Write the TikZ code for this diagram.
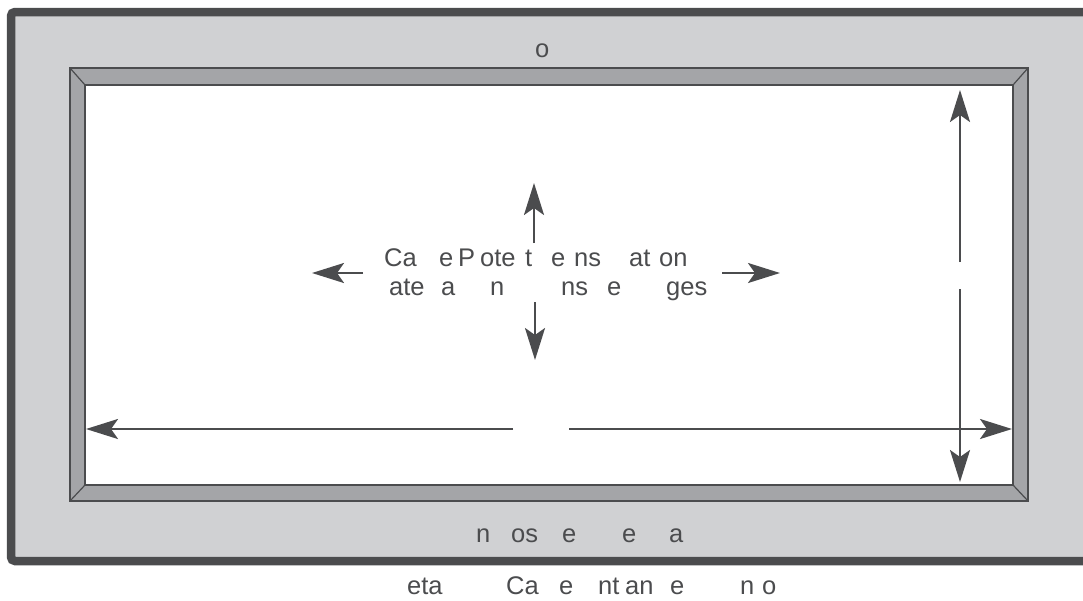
\documentclass[tikz,border=0pt]{standalone}
\usepackage{fontspec}
\setmainfont{Liberation Sans}
\usetikzlibrary{arrows.meta}
\definecolor{dk}{HTML}{4B4C4E}
\definecolor{lt}{HTML}{D0D1D3}
\definecolor{framegray}{HTML}{A4A5A8}
\newcommand\frg[2]{\makebox[0pt][l]{\hspace*{#1pt}#2}}
\begin{document}
\begin{tikzpicture}[x=1pt,y=-1pt,
  txt/.style={font=\fontsize{25.5}{30}\selectfont, text=dk, inner sep=0pt, anchor=base west},
  arr/.style={draw=dk, line width=2.4pt, -{Stealth[length=32pt,width=20pt,inset=7pt]}},
  edge/.style={draw=dk, line width=1.2pt}]
\useasboundingbox (0,0) rectangle (1083,600);
% outer panel
\draw[draw=dk, fill=lt, line width=8.5pt, rounded corners=4pt] (11,12) rectangle (1100,561);
% bevelled frame
\fill[framegray] (70,68) rectangle (1028,501);
\fill[white] (85,85) rectangle (1013,485);
\draw[edge] (70,68) rectangle (1028,501);
\draw[edge] (85,85) rectangle (1013,485);
\draw[edge] (70,68) -- (85,85);
\draw[edge] (1028,68) -- (1013,85);
\draw[edge] (70,501) -- (85,485);
\draw[edge] (1028,501) -- (1013,485);
% texts
\node[txt] (top) at (535,57) {o};
\node[txt] (c1) at (384,266) {\frg{0}{Ca}\frg{55}{e}\frg{74}{P}\frg{96}{ote}\frg{141}{t}\frg{167}{e}\frg{190}{ns}\frg{245}{at}\frg{275}{on}\hspace*{311pt}};
\node[txt] (c2) at (389,295) {\frg{0}{ate}\frg{52}{a}\frg{101}{n}\frg{172}{ns}\frg{218}{e}\frg{277}{ges}\hspace*{318pt}};
\node[txt] (bot) at (476,542) {\frg{0}{n}\frg{35}{os}\frg{86}{e}\frg{146}{e}\frg{193}{a}\hspace*{208pt}};
\node[txt] (cap) at (407,594) {\frg{0}{eta}\frg{99}{Ca}\frg{152}{e}\frg{191}{nt}\frg{218}{an}\frg{263}{e}\frg{333}{n}\frg{355}{o}\hspace*{370pt}};
% long horizontal arrow
\coordinate (hgl) at (513,429);
\coordinate (hgr) at (569,429);
\coordinate (hl) at (86,429);
\coordinate (hr) at (1012,429);
\draw[arr] (hgl) -- (hl);
\draw[arr] (hgr) -- (hr);
% vertical arrow
\coordinate (vgt) at (960,262);
\coordinate (vgb) at (960,289);
\coordinate (vt) at (960,90);
\coordinate (vb) at (960,482);
\draw[arr] (vgt) -- (vt);
\draw[arr] (vgb) -- (vb);
% centre arrows
\coordinate (us) at (534,243);
\coordinate (ue) at (534,183);
\coordinate (ds) at (535,302);
\coordinate (de) at (535,360);
\coordinate (ls) at (363,273);
\coordinate (le) at (312,273);
\coordinate (rs) at (722,273);
\coordinate (re) at (780,273);
\draw[arr] (us) -- (ue);
\draw[arr] (ds) -- (de);
\draw[arr] (ls) -- (le);
\draw[arr] (rs) -- (re);
\end{tikzpicture}
\end{document}
